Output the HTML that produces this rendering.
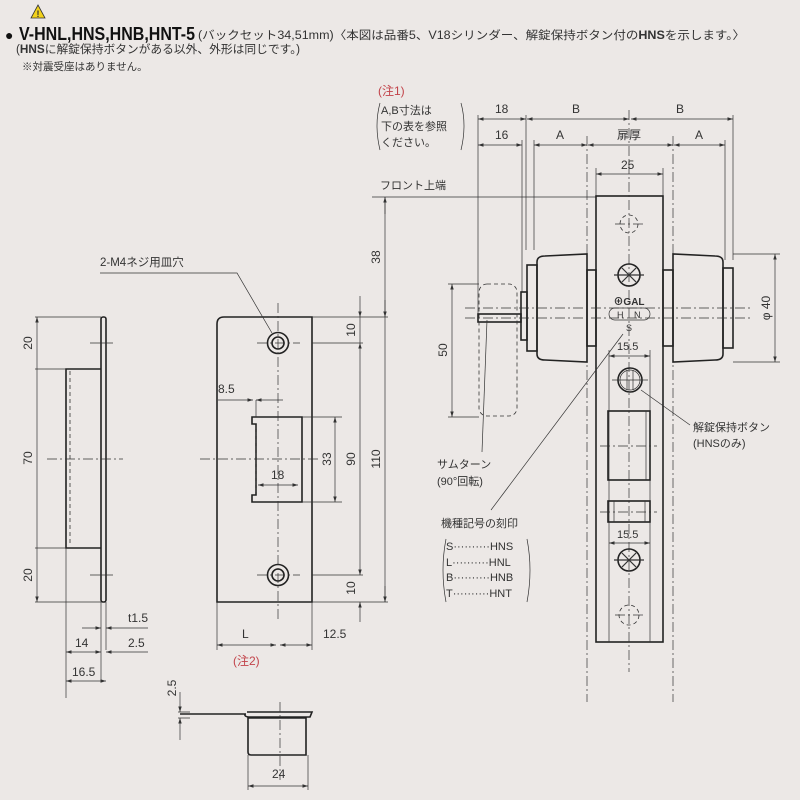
<!DOCTYPE html>
<html><head><meta charset="utf-8"><style>
html,body{margin:0;padding:0;background:#ece8e6;}
svg{display:block;font-family:"Liberation Sans","Noto Sans CJK JP",sans-serif;}
.l{stroke:#222;fill:none;stroke-width:1.6}
.t{stroke:#333;fill:none;stroke-width:0.7}
.c{stroke:#333;fill:none;stroke-width:0.7;stroke-dasharray:10 3 2 3}
.d{stroke:#333;fill:none;stroke-width:0.8;stroke-dasharray:4 3}
text{fill:#333}
</style></head><body>
<svg width="800" height="800" viewBox="0 0 800 800" font-size="12">
<defs><marker id="a" markerWidth="8" markerHeight="6" refX="8" refY="3" orient="auto-start-reverse"><path d="M0,0.5 L8,3 L0,5.5" fill="#333"/></marker></defs>
<!-- header -->
<polygon points="38,5 45,18 31,18" fill="#f2d21b" stroke="#333" stroke-width="0.8"/>
<text x="36.5" y="17" font-size="9" font-weight="bold">!</text>
<text x="5" y="40" font-size="14" style="fill:#111">●</text>
<text x="19" y="40" font-size="18" font-weight="bold" style="fill:#111" textLength="176" lengthAdjust="spacingAndGlyphs">V-HNL,HNS,HNB,HNT-5</text>
<text x="198" y="39" font-size="11.5" textLength="547" lengthAdjust="spacingAndGlyphs">(バックセット34,51mm)〈本図は品番5、V18シリンダー、解錠保持ボタン付の<tspan font-weight="bold">HNS</tspan>を示します。〉</text>
<text x="16" y="53" font-size="11.5" textLength="284" lengthAdjust="spacingAndGlyphs">(<tspan font-weight="bold">HNS</tspan>に解錠保持ボタンがある以外、外形は同じです。)</text>
<text x="22" y="70" font-size="10.5">※対震受座はありません。</text>

<!-- side view -->
<rect x="101" y="317" width="5" height="285" class="l" rx="2"/>
<path d="M101,369 H66 V548 H101" class="l"/>
<line x1="70" y1="371" x2="70" y2="546" class="d"/>
<path d="M35,317 H101 M35,369 H66 M35,548 H66 M35,602 H101" class="t"/>
<line x1="37" y1="317" x2="37" y2="602" class="t" marker-start="url(#a)" marker-end="url(#a)"/>
<text x="32" y="343" transform="rotate(-90 32 343)" text-anchor="middle">20</text>
<text x="32" y="458" transform="rotate(-90 32 458)" text-anchor="middle">70</text>
<text x="32" y="575" transform="rotate(-90 32 575)" text-anchor="middle">20</text>
<line x1="47" y1="459" x2="123" y2="459" class="c"/>
<path d="M90,343 H113 M90,575 H113" class="t"/>
<path d="M66,548 V698 M101,602 V680 M106,602 V650" class="t"/>
<line x1="82" y1="628" x2="101" y2="628" class="t" marker-end="url(#a)"/>
<line x1="148" y1="628" x2="106" y2="628" class="t" marker-end="url(#a)"/>
<text x="128" y="622">t1.5</text>
<line x1="66" y1="652" x2="101" y2="652" class="t" marker-start="url(#a)" marker-end="url(#a)"/>
<line x1="148" y1="652" x2="106" y2="652" class="t" marker-end="url(#a)"/>
<text x="75" y="647">14</text><text x="128" y="647">2.5</text>
<line x1="66" y1="681" x2="106" y2="681" class="t" marker-start="url(#a)" marker-end="url(#a)"/>
<text x="72" y="676">16.5</text>

<!-- strike plate -->
<path d="M224,317 H312 V602 H217 V324 Q217,317 224,317Z" class="l"/>
<circle cx="278" cy="343" r="10.5" class="l"/><circle cx="278" cy="343" r="6" class="l"/>
<circle cx="278" cy="575" r="10.5" class="l"/><circle cx="278" cy="575" r="6" class="l"/>
<path d="M254,417 H302 V502 H252 V495 H256 V424 H252 V417Z" class="l"/>
<line x1="256" y1="425" x2="256" y2="494" class="d"/>
<line x1="278" y1="303" x2="278" y2="620" class="c"/>
<line x1="200" y1="459" x2="318" y2="459" class="c"/>
<path d="M257,343 H300 M257,575 H300" class="c"/>
<text x="100" y="266" font-size="11.5">2-M4ネジ用皿穴</text>
<path d="M100,273 H237 L272,333" class="t"/>
<line x1="218" y1="400" x2="253" y2="400" class="t" marker-end="url(#a)"/>
<line x1="283" y1="400" x2="256" y2="400" class="t" marker-end="url(#a)"/>
<path d="M256,400 V417" class="t"/>
<text x="218" y="393">8.5</text>
<line x1="258" y1="485" x2="298" y2="485" class="t" marker-start="url(#a)" marker-end="url(#a)"/>
<text x="271" y="479">18</text>
<path d="M302,417 H342 M302,502 H342 M312,343 H363 M312,575 H363 M312,317 H388 M312,602 H388" class="t"/>
<line x1="335" y1="417" x2="335" y2="502" class="t" marker-start="url(#a)" marker-end="url(#a)"/>
<text x="331" y="459" transform="rotate(-90 331 459)" text-anchor="middle">33</text>
<line x1="360" y1="343" x2="360" y2="575" class="t" marker-start="url(#a)" marker-end="url(#a)"/>
<text x="355" y="459" transform="rotate(-90 355 459)" text-anchor="middle">90</text>
<line x1="360" y1="296" x2="360" y2="317" class="t" marker-end="url(#a)"/>
<line x1="360" y1="622" x2="360" y2="602" class="t" marker-end="url(#a)"/>
<line x1="360" y1="343" x2="360" y2="317" class="t"/>
<text x="355" y="330" transform="rotate(-90 355 330)" text-anchor="middle">10</text>
<text x="355" y="588" transform="rotate(-90 355 588)" text-anchor="middle">10</text>
<line x1="385" y1="197" x2="385" y2="602" class="t"/>
<line x1="385" y1="300" x2="385" y2="317" class="t" marker-end="url(#a)"/>
<line x1="385" y1="586" x2="385" y2="602" class="t" marker-end="url(#a)"/>
<line x1="385" y1="214" x2="385" y2="197" class="t" marker-end="url(#a)"/>
<text x="380" y="257" transform="rotate(-90 380 257)" text-anchor="middle">38</text>
<text x="380" y="459" transform="rotate(-90 380 459)" text-anchor="middle">110</text>
<path d="M217,602 V650 M312,602 V650" class="t"/>
<line x1="217" y1="645" x2="276" y2="645" class="t" marker-start="url(#a)" marker-end="url(#a)"/>
<line x1="280" y1="645" x2="312" y2="645" class="t" marker-start="url(#a)" marker-end="url(#a)"/>
<text x="242" y="638">L</text><text x="323" y="638">12.5</text>
<text x="233" y="665" style="fill:#c2434a">(注2)</text>

<!-- bottom detail -->
<path d="M180,714 H246 M247,712 H312 L310,717 H250 Q244,717 245,714" class="l"/>
<path d="M248,718 H306 V755 H251 Q248,755 248,752Z" class="l"/>
<line x1="280" y1="702" x2="280" y2="780" class="c"/>
<path d="M178,712 H190 M178,718 H190" class="t"/>
<line x1="180" y1="692" x2="180" y2="712" class="t" marker-end="url(#a)"/>
<line x1="180" y1="740" x2="180" y2="718" class="t" marker-end="url(#a)"/>
<text x="176" y="688" transform="rotate(-90 176 688)" text-anchor="middle">2.5</text>
<path d="M248,755 V790 M308,755 V790" class="t"/>
<line x1="248" y1="786" x2="308" y2="786" class="t" marker-start="url(#a)" marker-end="url(#a)"/>
<text x="272" y="778">24</text>

<!-- right view -->
<text x="378" y="95" style="fill:#c2434a">(注1)</text>
<text x="381" y="114" font-size="11">A,B寸法は</text>
<text x="381" y="130" font-size="11">下の表を参照</text>
<text x="381" y="146" font-size="11">ください。</text>
<path d="M380,103 Q374,125 380,150 M461,103 Q467,125 461,150" class="t"/>
<path d="M478,115 V320 M526,115 V250 M733,115 V260 M522,140 V292 M534,140 V250 M725,140 V260" class="t"/>
<line x1="478" y1="119" x2="526" y2="119" class="t" marker-start="url(#a)" marker-end="url(#a)"/>
<line x1="527" y1="119" x2="629" y2="119" class="t" marker-start="url(#a)" marker-end="url(#a)"/>
<line x1="631" y1="119" x2="733" y2="119" class="t" marker-start="url(#a)" marker-end="url(#a)"/>
<text x="495" y="113">18</text><text x="572" y="113">B</text><text x="676" y="113">B</text>
<line x1="478" y1="145" x2="522" y2="145" class="t" marker-start="url(#a)" marker-end="url(#a)"/>
<line x1="534" y1="145" x2="587" y2="145" class="t" marker-start="url(#a)" marker-end="url(#a)"/>
<line x1="588" y1="145" x2="673" y2="145" class="t" marker-start="url(#a)" marker-end="url(#a)"/>
<line x1="674" y1="145" x2="725" y2="145" class="t" marker-start="url(#a)" marker-end="url(#a)"/>
<text x="495" y="139">16</text><text x="556" y="139">A</text><text x="617" y="139">扉厚</text><text x="695" y="139">A</text>
<path d="M596,168 V196 M663,168 V196" class="t"/>
<line x1="596" y1="174" x2="663" y2="174" class="t" marker-start="url(#a)" marker-end="url(#a)"/>
<text x="621" y="169">25</text>
<text x="380" y="189" font-size="11">フロント上端</text>
<line x1="372" y1="197" x2="596" y2="197" class="t"/>
<line x1="587" y1="136" x2="587" y2="702" class="c"/>
<line x1="673" y1="136" x2="673" y2="702" class="c"/>
<rect x="596" y="196" width="67" height="446" class="l"/>
<line x1="629" y1="110" x2="629" y2="672" class="c"/>
<!-- knobs -->
<path d="M537,262 Q537,256 545,256 L587,254 V362 L545,360 Q537,360 537,354Z" class="l" style="fill:#ece8e6"/>
<rect x="527" y="265" width="10" height="86" class="l"/>
<rect x="521" y="292" width="6" height="48" class="l"/>
<rect x="587" y="270" width="9" height="76" class="l"/>
<rect x="478" y="314" width="43" height="8" class="l"/>
<path d="M723,262 Q723,256 715,256 L673,254 V362 L715,360 Q723,360 723,354Z" class="l" style="fill:#ece8e6"/>
<rect x="723" y="268" width="10" height="80" class="l"/>
<rect x="663" y="270" width="10" height="76" class="l"/>
<rect x="479" y="284" width="38" height="132" rx="8" class="d"/>
<line x1="465" y1="308" x2="752" y2="308" class="c"/>
<line x1="465" y1="318" x2="752" y2="318" class="c"/>
<path d="M448,284 H479 M448,417 H479" class="t"/>
<line x1="452" y1="284" x2="452" y2="417" class="t" marker-start="url(#a)" marker-end="url(#a)"/>
<text x="447" y="350" transform="rotate(-90 447 350)" text-anchor="middle">50</text>
<path d="M733,254 H780 M733,362 H780" class="t"/>
<line x1="775" y1="254" x2="775" y2="362" class="t" marker-start="url(#a)" marker-end="url(#a)"/>
<text x="770" y="308" transform="rotate(-90 770 308)" text-anchor="middle">φ 40</text>
<!-- plate details -->
<circle cx="629" cy="224" r="9" class="d"/><line x1="615" y1="224" x2="643" y2="224" class="c"/>
<circle cx="629" cy="275" r="11" class="l"/><path d="M622,268 L636,282 M636,268 L622,282 M614,275 H644" class="t" style="stroke-width:1.2"/>
<text x="629" y="305" text-anchor="middle" font-size="10" font-weight="bold">⊕GAL</text>
<rect x="609" y="308" width="41" height="12" rx="6" class="t"/>
<text x="617" y="318" font-size="9">H</text><text x="634" y="318" font-size="9">N</text>
<text x="626" y="331" font-size="9">S</text>
<path d="M609,350 V642 M650,350 V642" class="t"/>
<line x1="609" y1="356" x2="650" y2="356" class="t" marker-start="url(#a)" marker-end="url(#a)"/>
<text x="617" y="350" font-size="11">15.5</text>
<circle cx="630" cy="380" r="12" class="l"/><circle cx="630" cy="380" r="10" class="t"/>
<path d="M627,370 V390 M633,370 V390 M612,380 H648" class="t"/>
<rect x="608" y="411" width="42" height="69" class="l"/><line x1="646" y1="411" x2="646" y2="480" class="t"/>
<line x1="600" y1="446" x2="657" y2="446" class="c"/>
<rect x="608" y="501" width="42" height="21" class="l"/><path d="M614,501 V522 M645,501 V522" class="t"/>
<line x1="600" y1="512" x2="657" y2="512" class="c"/>
<line x1="609" y1="543" x2="650" y2="543" class="t" marker-start="url(#a)" marker-end="url(#a)"/>
<text x="617" y="538" font-size="11">15.5</text>
<circle cx="629" cy="560" r="11" class="l"/><path d="M622,553 L636,567 M636,553 L622,567 M614,560 H644" class="t" style="stroke-width:1.2"/>
<circle cx="629" cy="615" r="10" class="d"/><line x1="615" y1="615" x2="645" y2="615" class="c"/>
<!-- labels -->
<path d="M641,390 L690,425" class="t"/>
<text x="693" y="431" font-size="11">解錠保持ボタン</text>
<text x="693" y="447" font-size="11">(HNSのみ)</text>
<path d="M482,452 L487,320" class="t"/>
<text x="437" y="468" font-size="11">サムターン</text>
<text x="437" y="485" font-size="11">(90°回転)</text>
<path d="M491,510 L623,334" class="t"/>
<text x="441" y="527" font-size="11">機種記号の刻印</text>
<text x="446" y="550" font-size="11">S··········HNS</text>
<text x="446" y="566" font-size="11">L··········HNL</text>
<text x="446" y="581" font-size="11">B··········HNB</text>
<text x="446" y="597" font-size="11">T··········HNT</text>
<path d="M446,539 Q440,570 446,602 M527,539 Q533,570 527,602" class="t"/>
</svg>
</body></html>
